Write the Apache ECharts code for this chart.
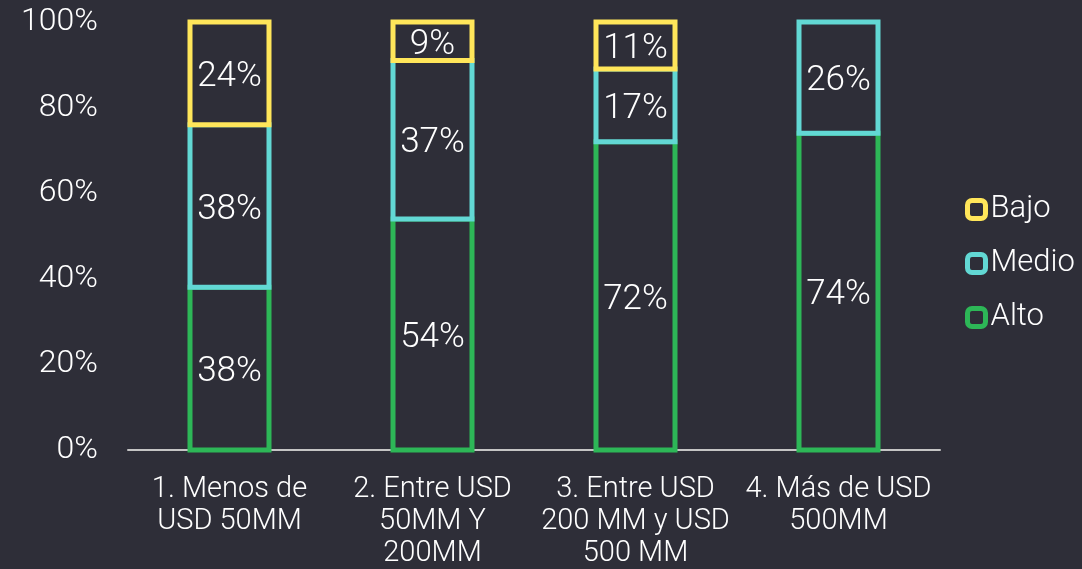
<!DOCTYPE html>
<html>
<head>
<meta charset="utf-8">
<script src="https://cdn.jsdelivr.net/npm/echarts@6/dist/echarts.min.js"></script>
<style>
  html, body { margin: 0; padding: 0; background: #2e2e38; }
  #chart { width: 1082px; height: 569px; }
</style>
</head>
<body>
<div id="chart"></div>
<script>
// Company size groups on the x axis
const categories = [
  '1. Menos de\nUSD 50MM',
  '2. Entre USD\n50MM Y\n200MM',
  '3. Entre USD\n200 MM y USD\n500 MM',
  '4. Más de USD\n500MM'
];
// Share of responses per level (%), stacked from the bottom
const alto = [38, 54, 72, 74];
const medio = [38, 37, 17, 26];
const bajo = [24, 9, 11, null];
const yTicks = [0, 20, 40, 60, 80, 100];

const BG = '#2e2e38';
const FONT = 'Roboto';
const COLORS = { Alto: '#2db757', Medio: '#62d8d4', Bajo: '#ffe65a' };
const BAR_W = 79;
const STROKE = 5;

// Stack order, bottom to top
const stackOrder = [['Alto', alto], ['Medio', medio], ['Bajo', bajo]];

// Build [categoryIndex, base, value] rows for each stacked level
const bases = categories.map(() => 0);
const stacked = stackOrder.map(([name, values]) => {
  const rows = values.map((v, i) => {
    const row = [i, bases[i], v == null ? '-' : v];
    if (v != null) bases[i] += v;
    return row;
  });
  return [name, rows];
});

function makeSeries(name, rows) {
  const color = COLORS[name];
  return {
    name: name,
    type: 'custom',
    data: rows,
    encode: { x: 0, y: 2 },
    itemStyle: { color: BG, borderColor: color, borderWidth: STROKE },
    renderItem: (params, api) => {
      const val = api.value(2);
      if (val == null || isNaN(val)) return null;
      const base = api.value(1);
      const cat = api.value(0);
      const p0 = api.coord([cat, base]);
      const p1 = api.coord([cat, base + val]);
      return {
        type: 'rect',
        shape: { x: p0[0] - BAR_W / 2, y: p1[1], width: BAR_W, height: p0[1] - p1[1] },
        style: { fill: BG, stroke: color, lineWidth: STROKE },
        textContent: {
          style: {
            text: val + '%',
            fill: '#ffffff',
            fontFamily: FONT,
            fontWeight: 300,
            fontSize: 35
          }
        },
        textConfig: { position: 'inside', offset: [0, 4] }
      };
    }
  };
}

const chart = echarts.init(document.getElementById('chart'), null, { renderer: 'canvas' });
chart.setOption({
  backgroundColor: BG,
  animation: false,
  textStyle: { fontFamily: FONT },
  grid: { left: 128, right: 142, top: 22, bottom: 119, containLabel: false, outerBoundsMode: 'none' },
  legend: {
    orient: 'vertical',
    left: 965,
    top: 194,
    padding: 0,
    data: ['Bajo', 'Medio', 'Alto'].map(n => ({
      name: n,
      itemStyle: { color: BG, borderColor: COLORS[n], borderWidth: 5 }
    })),
    icon: 'roundRect',
    itemWidth: 18,
    itemHeight: 18,
    itemGap: 23,
    textStyle: { color: '#ffffff', fontSize: 31, fontWeight: 300, fontFamily: FONT }
  },
  xAxis: {
    type: 'category',
    data: categories,
    axisLine: { lineStyle: { color: '#c4c4c4', width: 2 } },
    axisTick: { show: false },
    axisLabel: {
      color: '#ffffff',
      fontSize: 29,
      fontWeight: 300,
      fontFamily: FONT,
      lineHeight: 32,
      margin: 24,
      interval: 0
    }
  },
  yAxis: {
    type: 'value',
    min: yTicks[0],
    max: yTicks[yTicks.length - 1],
    interval: yTicks[1] - yTicks[0],
    splitLine: { show: false },
    axisLine: { show: false },
    axisTick: { show: false },
    axisLabel: {
      formatter: '{value}%',
      color: '#ffffff',
      fontSize: 32,
      fontWeight: 300,
      fontFamily: FONT,
      margin: 30,
      padding: [4, 0, 0, 0]
    }
  },
  series: stacked.map(([name, rows]) => makeSeries(name, rows))
});
</script>
</body>
</html>
